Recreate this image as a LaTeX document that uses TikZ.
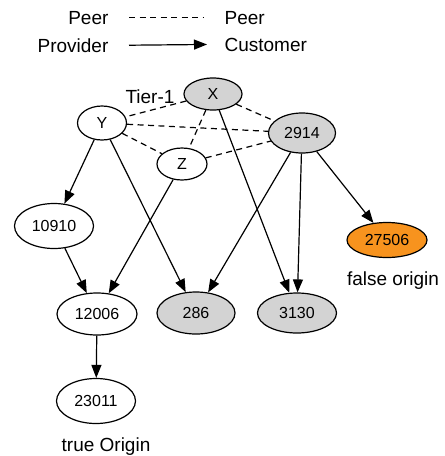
\documentclass[tikz,border=0pt]{standalone}
\usepackage{fontspec}
\setmainfont{Liberation Sans}
\usetikzlibrary{shapes.geometric,arrows.meta}
\definecolor{asgray}{RGB}{211,211,211}
\definecolor{asorange}{RGB}{247,147,30}
\begin{document}
\begin{tikzpicture}[x=1pt,y=-1pt,line width=1.2pt,
  as/.style={ellipse,draw,inner sep=0pt,font=\fontsize{16}{18}\selectfont},
  tier/.style={as,fill=asgray},
  lbl/.style={inner sep=0pt,font=\fontsize{19}{22}\selectfont},
  peer/.style={dash pattern=on 6pt off 4.5pt},
  cust/.style={-{Triangle[length=13pt,width=10pt]}}]
\useasboundingbox (0,0) rectangle (445,456);
\node[lbl,anchor=base east](peerl) at (109,24) {Peer};
\node[lbl,anchor=base west](peerr) at (224,24) {Peer};
\node[lbl,anchor=base east](prov) at (109,52) {Provider};
\node[lbl,anchor=base west](custr) at (224,51) {Customer};
\draw[peer]([xshift=20pt]peerl.east)--([xshift=-21pt]peerr.west);
\draw[cust]([xshift=20pt]prov.east)--([xshift=-17pt]custr.west);
\node[tier,minimum width=58pt,minimum height=32pt](asX) at (213,94) {X};
\node[as,minimum width=49pt,minimum height=34pt](asY) at (102,123) {Y};
\node[as,minimum width=50pt,minimum height=32pt](asZ) at (182,164) {Z};
\node[tier,minimum width=67pt,minimum height=40pt](as2914) at (302,133) {2914};
\node[as,minimum width=79pt,minimum height=45pt](as10910) at (54,226) {10910};
\node[as,fill=asorange,minimum width=80pt,minimum height=35pt](as27506) at (387,240) {27506};
\node[as,minimum width=80pt,minimum height=42pt](as12006) at (97,314) {12006};
\node[tier,minimum width=78pt,minimum height=42pt](as286) at (196,313) {286};
\node[tier,minimum width=79pt,minimum height=40pt](as3130) at (297,313) {3130};
\node[as,minimum width=79pt,minimum height=45pt](as23011) at (96,401) {23011};
\node[lbl,anchor=base](tier1) at (150,103) {Tier-1};
\node[lbl,anchor=base](falseo) at (393,285) {false origin};
\node[lbl,anchor=base](trueo) at (106,451) {true Origin};
\draw[peer](asX)--(asY);
\draw[peer](asX)--(as2914);
\draw[peer](asX)--(asZ);
\draw[peer](asY)--(as2914);
\draw[peer](asY)--(asZ);
\draw[peer](asZ)--(as2914);
\draw[cust](asY)--(as10910);
\draw[cust](asY)--(as286);
\draw[cust](asX)--(as3130);
\draw[cust](asZ)--(as12006);
\draw[cust](as2914)--(as286);
\draw[cust](as2914)--(as3130);
\draw[cust](as2914)--(as27506);
\draw[cust](as10910)--(as12006);
\draw[cust](as12006)--(as23011);
\end{tikzpicture}
\end{document}
